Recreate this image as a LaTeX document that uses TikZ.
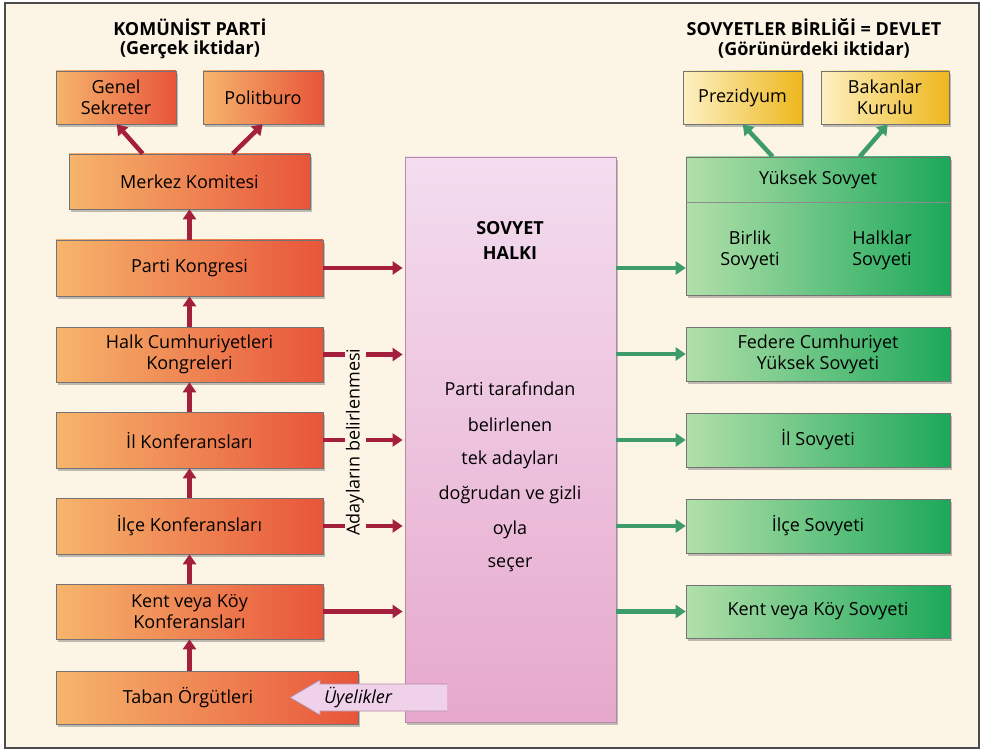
\documentclass[tikz,border=0pt]{standalone}
\usepackage{fontspec}
\setmainfont{Open Sans}
\usetikzlibrary{arrows.meta,shadows,calc}
\definecolor{bg}{HTML}{FCF5E6}
\definecolor{orL}{HTML}{F6B56C}
\definecolor{orR}{HTML}{E8553A}
\definecolor{grL}{HTML}{B2E0AA}
\definecolor{grR}{HTML}{1CA85A}
\definecolor{yeL}{HTML}{FDF0C2}
\definecolor{yeR}{HTML}{EEB71E}
\definecolor{piT}{HTML}{F3DDEF}
\definecolor{piB}{HTML}{E6A8CC}
\definecolor{redA}{HTML}{A31F3C}
\definecolor{grA}{HTML}{3E9B6C}
\definecolor{piA}{HTML}{EFD2EA}
\definecolor{piE}{HTML}{B58AA8}
\begin{document}
\begin{tikzpicture}[x=1pt,y=-1pt,
  txt/.style={font=\fontsize{18}{21}\selectfont, align=center, inner sep=0pt},
  box/.style={txt, draw=black!55, line width=0.6pt,
    drop shadow={shadow xshift=2pt,shadow yshift=-3pt,opacity=0.35,fill=black!70}},
  obox/.style={box, left color=orL, right color=orR},
  gbox/.style={box, left color=grL, right color=grR},
  ybox/.style={box, left color=yeL, right color=yeR},
  rarr/.style={draw=redA, line width=4.5pt, -{Triangle[length=10pt,width=13pt]}},
  garr/.style={draw=grA, line width=4.5pt, -{Triangle[length=10pt,width=13pt]}},
  title/.style={font=\fontsize{18}{21}\selectfont\bfseries, align=center, inner sep=0pt}
]
\useasboundingbox (0,0) rectangle (985,751);
\draw[fill=bg, draw=black!70, line width=1.3pt] (5,3) rectangle (979,748);

% titles
\node[title] (t1) at (190,27) {KOMÜNİST PARTİ};
\node[title] (t1b) at (190,50) {(Gerçek iktidar)};
\node[title] (t2) at (814,27) {SOVYETLER BİRLİĞİ = DEVLET};
\node[title] (t2b) at (814,50) {(Görünürdeki iktidar)};

% party boxes
\node[obox, minimum width=120pt, minimum height=53pt] (gs) at (116,97.5) {Genel\\Sekreter};
\node[obox, minimum width=120pt, minimum height=53pt] (pb) at (263,97.5) {Politburo};
\node[obox, minimum width=241pt, minimum height=55pt] (mk) at (189.5,181.5) {Merkez Komitesi};
\node[obox, minimum width=267pt, minimum height=56pt] (pk) at (189.5,268) {Parti Kongresi};
\node[obox, minimum width=267pt, minimum height=55pt] (hc) at (189.5,354.5) {Halk Cumhuriyetleri\\Kongreleri};
\node[obox, minimum width=267pt, minimum height=56pt] (ik) at (189.5,440) {İl Konferansları};
\node[obox, minimum width=267pt, minimum height=56pt] (ick) at (189.5,526) {İlçe Konferansları};
\node[obox, minimum width=267pt, minimum height=55pt] (kk) at (189.5,611.5) {Kent veya Köy\\Konferansları};
\node[obox, minimum width=302pt, minimum height=53pt] (tb) at (207,697.5) {};
\node[txt] (tbt) at (188,697.5) {Taban Örgütleri};

% pink box
\node[draw=piE, line width=0.8pt, top color=piT, bottom color=piB, minimum width=211pt, minimum height=565pt,
  drop shadow={shadow xshift=2pt,shadow yshift=-3pt,opacity=0.35,fill=black!70}] (ph) at (510.5,439.5) {};
\node[title] (sh1) at (510,228) {SOVYET};
\node[title] (sh2) at (510,253) {HALKI};
\node[txt] (p1) at (510,389) {Parti tarafından};
\node[txt] (p2) at (510,425) {belirlenen};
\node[txt] (p3) at (510,460) {tek adayları};
\node[txt] (p4) at (510,495) {doğrudan ve gizli};
\node[txt] (p5) at (510,530) {oyla};
\node[txt] (p6) at (510,565) {seçer};

% state boxes
\node[ybox, minimum width=119pt, minimum height=53pt] (pz) at (742.5,97.5) {Prezidyum};
\node[ybox, minimum width=128pt, minimum height=53pt] (bk) at (885,97.5) {Bakanlar\\Kurulu};
\node[gbox, minimum width=264pt, minimum height=138pt] (ys) at (818,226) {};
\draw[black!45, line width=0.6pt] (ys.west |- 0,202) -- (ys.east |- 0,202);
\node[txt] (yst) at (818,180) {Yüksek Sovyet};
\node[txt] (bs) at (750,250) {Birlik\\Sovyeti};
\node[txt] (hs) at (882,250) {Halklar\\Sovyeti};
\node[gbox, minimum width=264pt, minimum height=54pt] (fc) at (818,354) {Federe Cumhuriyet\\Yüksek Sovyeti};
\node[gbox, minimum width=264pt, minimum height=54pt] (is) at (818,440) {İl Sovyeti};
\node[gbox, minimum width=264pt, minimum height=54pt] (ics) at (818,526) {İlçe Sovyeti};
\node[gbox, minimum width=264pt, minimum height=53pt] (ks) at (818,611.5) {Kent veya Köy Sovyeti};

% red arrows
\draw[rarr] ($(mk.north west)+(74,0)$) -- ($(gs.south west)+(61,0)$);
\draw[rarr] ($(mk.north west)+(164,0)$) -- ($(pb.south west)+(60,0)$);
\draw[rarr] (pk.north) -- (mk.south);
\draw[rarr] (hc.north) -- (pk.south);
\draw[rarr] (ik.north) -- (hc.south);
\draw[rarr] (ick.north) -- (ik.south);
\draw[rarr] (kk.north) -- (ick.south);
\draw[rarr] (tb.north -| kk.south) -- (kk.south);
\foreach \n in {pk,hc,ik,ick,kk}
  \draw[rarr, shorten >=2pt] (\n.east) -- (\n.east -| ph.west);

% green arrows
\draw[garr] ($(ys.north west)+(87,0)$) -- ($(pz.south west)+(60,0)$);
\draw[garr] ($(ys.north west)+(174,0)$) -- ($(bk.south west)+(67,0)$);
\draw[garr] (ph.east |- 0,268) -- (ys.west |- 0,268);
\foreach \n in {fc,is,ics,ks}
  \draw[garr] (ph.east |- \n.west) -- (\n.west);

% adaylarin belirlenmesi
\node[txt, fill=bg, inner sep=1.5pt, rotate=90] (ab) at (355,442) {Adayların belirlenmesi};

% uyelikler arrow
\fill[piA] (447,684) -- (320,684) -- (320,680) -- (290,697.5) -- (320,715) -- (320,711) -- (447,711) -- cycle;
\draw[piE, line width=0.7pt] (447,684) -- (320,684) -- (320,680) -- (290,697.5) -- (320,715) -- (320,711) -- (447,711);
\node[txt, font=\fontsize{18}{21}\selectfont\itshape] (uy) at (358,697.5) {Üyelikler};
\end{tikzpicture}
\end{document}
